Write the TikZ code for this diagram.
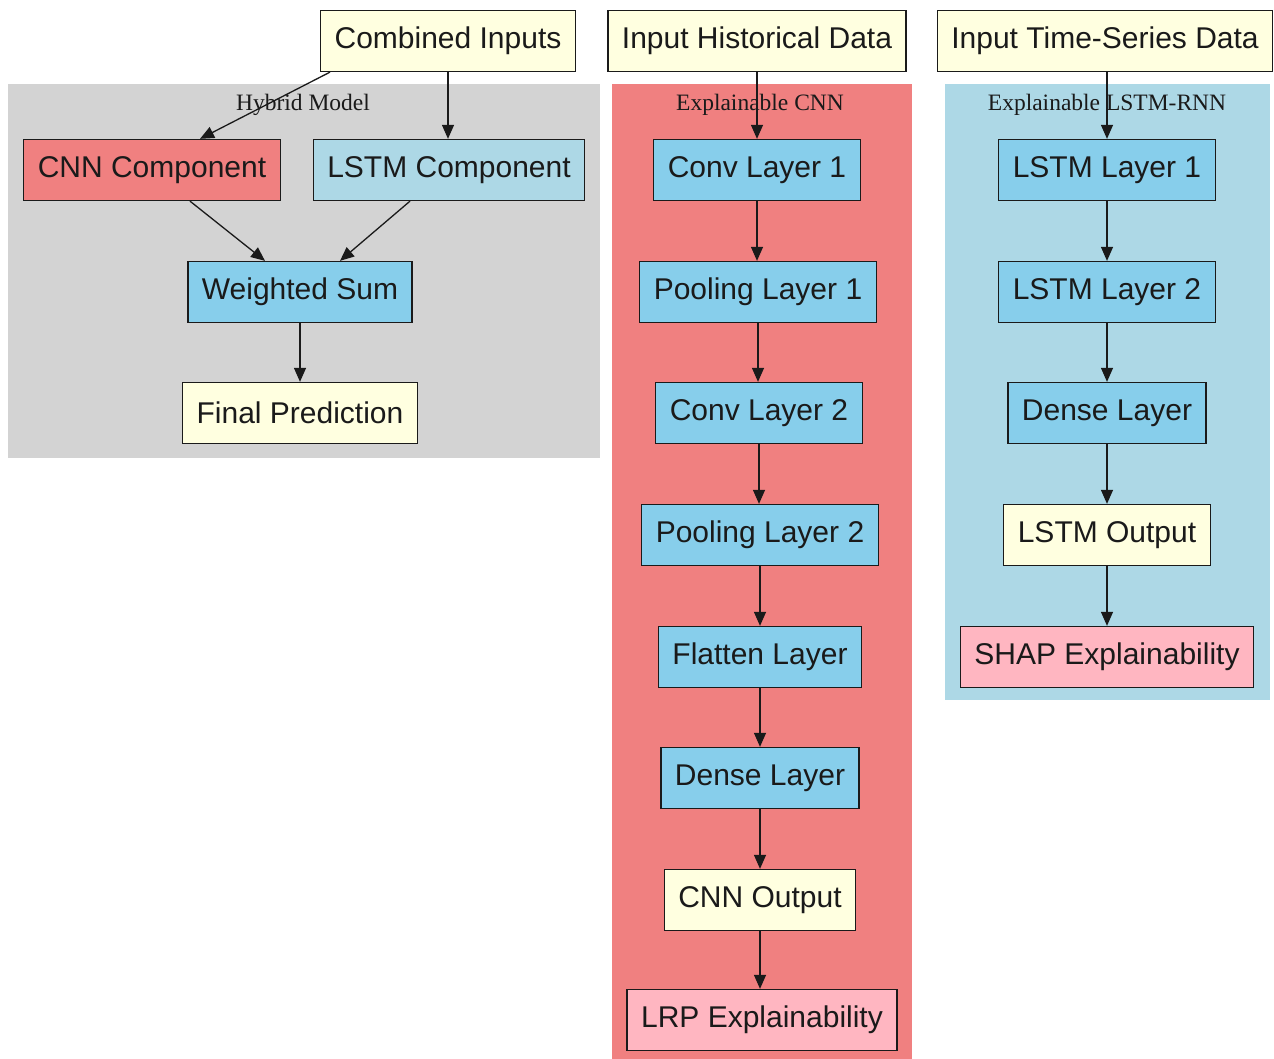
\documentclass[tikz,border=0pt]{standalone}
\usepackage{fontspec}
\setmainfont{Liberation Sans}
\newfontfamily\clusterfont{Liberation Serif}
\usetikzlibrary{arrows.meta,positioning}
\definecolor{lightgreyc}{HTML}{D3D3D3}
\definecolor{lcoral}{HTML}{F08080}
\definecolor{lblue}{HTML}{ADD8E6}
\definecolor{skyb}{HTML}{87CEEB}
\definecolor{lyellow}{HTML}{FFFFE0}
\definecolor{lpink}{HTML}{FFB6C1}
\definecolor{inkc}{HTML}{1A1A1A}
\tikzset{
  box/.style={draw=inkc, line width=1.3pt, rectangle, minimum height=61pt, inner xsep=14pt,
    font=\fontsize{30}{36}\selectfont, text=inkc},
  inbox/.style={box, fill=lyellow},
  layerbox/.style={box, fill=skyb},
  explbox/.style={box, fill=lpink},
  cnnbox/.style={box, fill=lcoral},
  lstmbox/.style={box, fill=lblue},
  clusterlabel/.style={font=\clusterfont\fontsize{23.5}{28}\selectfont, text=inkc},
  edge/.style={draw=inkc, line width=1.3pt, -{Triangle[length=14pt,width=12pt]}}
}
\begin{document}
\begin{tikzpicture}[x=1pt,y=-1pt]
\useasboundingbox (0,0) rectangle (1274,1059);
% clusters
\fill[lightgreyc] (8,84) rectangle (600,458);
\fill[lcoral] (612,84) rectangle (912,1059);
\fill[lblue] (945,84) rectangle (1270,700);
\node[clusterlabel] (lhyb) at (303,105) {Hybrid Model};
\node[clusterlabel] (lcnn) at (760,105) {Explainable CNN};
\node[clusterlabel] (llstm) at (1107,105) {Explainable LSTM-RNN};
% inputs
\node[inbox] (ci) at (448,41) {Combined Inputs};
\node[inbox] (ihd) at (757,41) {Input Historical Data};
\node[inbox] (its) at (1105,41) {Input Time-Series Data};
% hybrid
\node[cnnbox] (cnnc) at (152,170) {CNN Component};
\node[lstmbox] (lstmc) at (449,170) {LSTM Component};
\node[layerbox] (ws) at (300,292) {Weighted Sum};
\node[inbox] (fp) at (300,413) {Final Prediction};
% cnn
\node[layerbox] (c1) at (757,170) {Conv Layer 1};
\node[layerbox] (p1) at (758,292) {Pooling Layer 1};
\node[layerbox] (c2) at (759,413) {Conv Layer 2};
\node[layerbox] (p2) at (760,535) {Pooling Layer 2};
\node[layerbox] (fl) at (760,657) {Flatten Layer};
\node[layerbox] (dl) at (760,778) {Dense Layer};
\node[inbox] (co) at (760,900) {CNN Output};
\node[explbox] (lrp) at (762,1020) {LRP Explainability};
% lstm
\node[layerbox] (l1) at (1107,170) {LSTM Layer 1};
\node[layerbox] (l2) at (1107,292) {LSTM Layer 2};
\node[layerbox] (dl2) at (1107,413) {Dense Layer};
\node[inbox] (lo) at (1107,535) {LSTM Output};
\node[explbox] (shap) at (1107,657) {SHAP Explainability};
% edges hybrid
\draw[edge] ([xshift=10pt]ci.south west) -- ([xshift=48pt]cnnc.north);
\draw[edge] (ci.south) -- (ci.south |- lstmc.north);
\draw[edge] ([xshift=38pt]cnnc.south) -- ([xshift=-35pt]ws.north);
\draw[edge] ([xshift=-39pt]lstmc.south) -- ([xshift=40pt]ws.north);
\draw[edge] (ws) -- (fp);
% edges cnn
\draw[edge] (ihd) -- (c1);
\draw[edge] (c1.south) -- (c1.south |- p1.north);
\draw[edge] (p1.south) -- (p1.south |- c2.north);
\draw[edge] (c2.south) -- (c2.south |- p2.north);
\draw[edge] (p2) -- (fl);
\draw[edge] (fl) -- (dl);
\draw[edge] (dl) -- (co);
\draw[edge] (co.south) -- (co.south |- lrp.north);
% edges lstm
\draw[edge] (its.south -| l1.north) -- (l1.north);
\draw[edge] (l1) -- (l2);
\draw[edge] (l2) -- (dl2);
\draw[edge] (dl2) -- (lo);
\draw[edge] (lo) -- (shap);
\end{tikzpicture}
\end{document}
